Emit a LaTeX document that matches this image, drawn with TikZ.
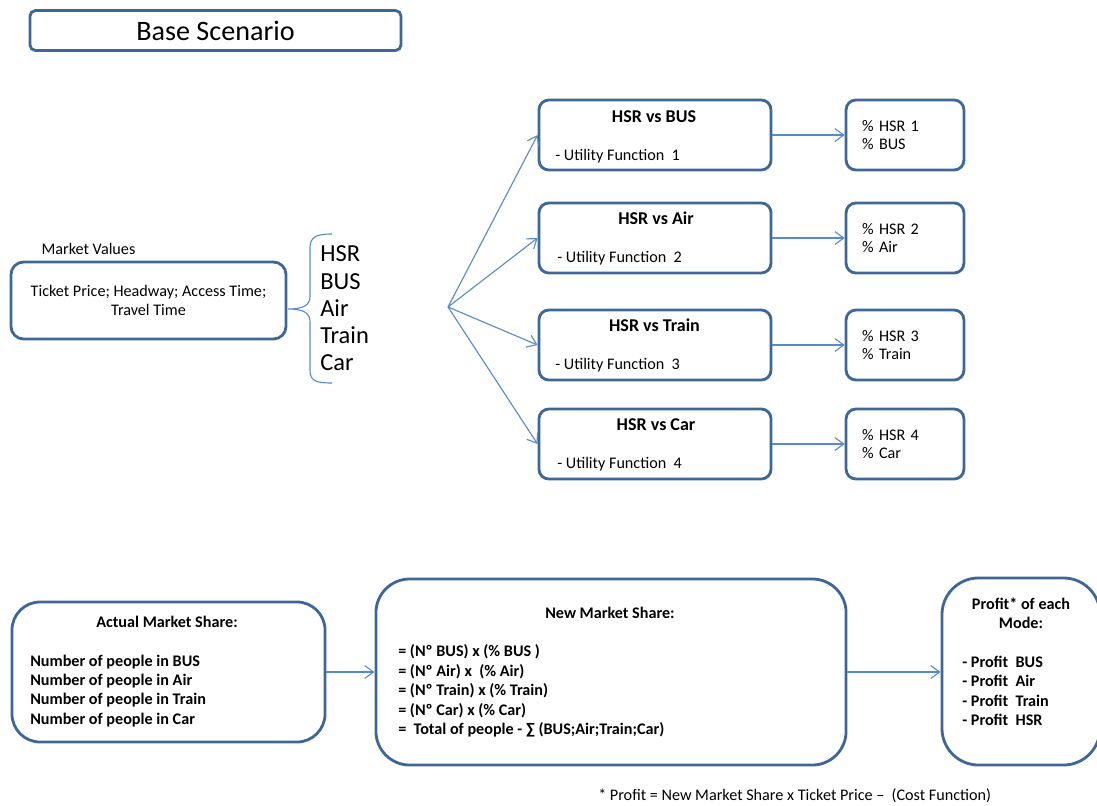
\documentclass[tikz,border=0pt]{standalone}
\usepackage{fontspec}
\setmainfont{Carlito}
\usetikzlibrary{arrows.meta}

\definecolor{boxblue}{RGB}{62,103,150}
\definecolor{linkblue}{RGB}{88,138,198}

\tikzset{
  txt/.style={font=\fontsize{11.5}{13.8}\selectfont},
  btxt/.style={font=\fontsize{11.5}{13.8}\selectfont\bfseries},
  htxt/.style={font=\fontsize{12.8}{14}\selectfont\bfseries},
  tag/.style={inner sep=0pt},
  frame/.style={draw=boxblue,line width=2pt,fill=white},
  hsrbox/.style={frame,rounded corners=7pt,minimum width=5.8cm,minimum height=1.75cm},
  resbox/.style={frame,rounded corners=7pt,font=\fontsize{11.5}{13}\selectfont,
    text width=61pt,inner xsep=11.4pt,minimum height=1.75cm,align=left},
  link/.style={draw=linkblue,line width=0.8pt,-{Straight Barb[length=2.2mm,width=3.2mm]}}
}

\begin{document}
\begin{tikzpicture}[x=0.025cm,y=-0.025cm]
  \useasboundingbox (0,0) rectangle (1097,805);

  % title
  \node[frame,rounded corners=4pt,minimum width=9.275cm,minimum height=1cm,
    font=\fontsize{20}{24}\selectfont] (base) at (215.5,30.5) {Base Scenario};

  % market values and the modes
  \node[txt,tag] (mvlabel) at (88.5,249) {Market Values};
  \node[frame,txt,rounded corners=9pt,minimum width=6.875cm,minimum height=1.925cm,
    align=center] (market) at (148.5,300.5) {Ticket Price; Headway; Access Time;\\Travel Time};
  \draw[linkblue,line width=0.8pt] (332,234) .. controls (316,234) and (310,237) .. (310,248)
    -- (310,296) .. controls (310,305) and (304,309) .. (288,309)
    .. controls (304,309) and (310,313) .. (310,322) -- (310,370)
    .. controls (310,381) and (316,383) .. (332,383);
  \node[tag,anchor=west,align=left,font=\fontsize{17.4}{19.3}\selectfont] (modes) at (320,308.3)
    {HSR\\BUS\\Air\\Train\\Car};
  \coordinate (fan) at (448,307);

  % pairwise comparisons
  \node[hsrbox] (hsr1) at (655,135) {};
  \node[hsrbox] (hsr2) at (655,238) {};
  \node[hsrbox] (hsr3) at (655,345) {};
  \node[hsrbox] (hsr4) at (655,444) {};
  \node[htxt,tag] (vs1) at (654,116.5) {HSR vs BUS};
  \node[htxt,tag] (vs2) at (656,218) {HSR vs Air};
  \node[htxt,tag] (vs3) at (654.5,325) {HSR vs Train};
  \node[htxt,tag] (vs4) at (656,425) {HSR vs Car};
  \node[txt,tag,anchor=west] (uf1) at (555,155.7) {- Utility Function\ \ 1};
  \node[txt,tag,anchor=west] (uf2) at (557,257.7) {- Utility Function\ \ 2};
  \node[txt,tag,anchor=west] (uf3) at (555,365) {- Utility Function\ \ 3};
  \node[txt,tag,anchor=west] (uf4) at (557,464) {- Utility Function\ \ 4};

  \node[resbox] (res1) at (905,135) {\% HSR 1\\\% BUS};
  \node[resbox] (res2) at (905,238) {\% HSR 2\\\% Air};
  \node[resbox] (res3) at (905,345) {\% HSR 3\\\% Train};
  \node[resbox] (res4) at (905,444) {\% HSR 4\\\% Car};

  \draw[link] (fan) -- (hsr1.west);
  \draw[link] (fan) -- (hsr2.west);
  \draw[link] (fan) -- (hsr3.west);
  \draw[link] (fan) -- (hsr4.west);
  \draw[link] (hsr1) -- (res1);
  \draw[link] (hsr2) -- (res2);
  \draw[link] (hsr3) -- (res3);
  \draw[link] (hsr4) -- (res4);

  % market shares and profit
  \node[frame,rounded corners=20pt,minimum width=7.825cm,minimum height=3.5cm] (actual) at (168.5,672) {};
  \node[btxt,tag] (actualt) at (167,622) {Actual Market Share:};
  \node[btxt,tag,anchor=west,align=left] (actuall) at (30,690.8)
    {Number of people in BUS\\Number of people in Air\\Number of people in Train\\Number of people in Car};

  \node[frame,rounded corners=24pt,minimum width=11.75cm,minimum height=4.65cm] (newms) at (611,672) {};
  \node[btxt,tag] (newmst) at (610,613) {New Market Share:};
  \node[btxt,tag,anchor=west,align=left] (newmsl) at (398,691)
    {= (Nº BUS) x (\% BUS )\\= (Nº Air) x\ \ (\% Air)\\= (Nº Train) x (\% Train)\\= (Nº Car) x (\% Car)\\=\ \ Total of people - ∑ (BUS;Air;Train;Car)};

  \node[frame,rounded corners=26pt,minimum width=3.95cm,minimum height=4.675cm] (profit) at (1021,671.5) {};
  \node[btxt,tag,align=center] (profitt) at (1021,613) {Profit* of each\\Mode:};
  \node[btxt,tag,anchor=west,align=left] (profitl) at (962,691)
    {- Profit\ \ BUS\\- Profit\ \ Air\\- Profit\ \ Train\\- Profit\ \ HSR};

  \draw[link] (actual.east) -- (actual.east -| newms.west);
  \draw[link] (newms.east) -- (newms.east -| profit.west);

  \node[txt,tag,anchor=west] (note) at (598,796) {* Profit = New Market Share x Ticket Price --\ \ (Cost Function)};
\end{tikzpicture}
\end{document}
